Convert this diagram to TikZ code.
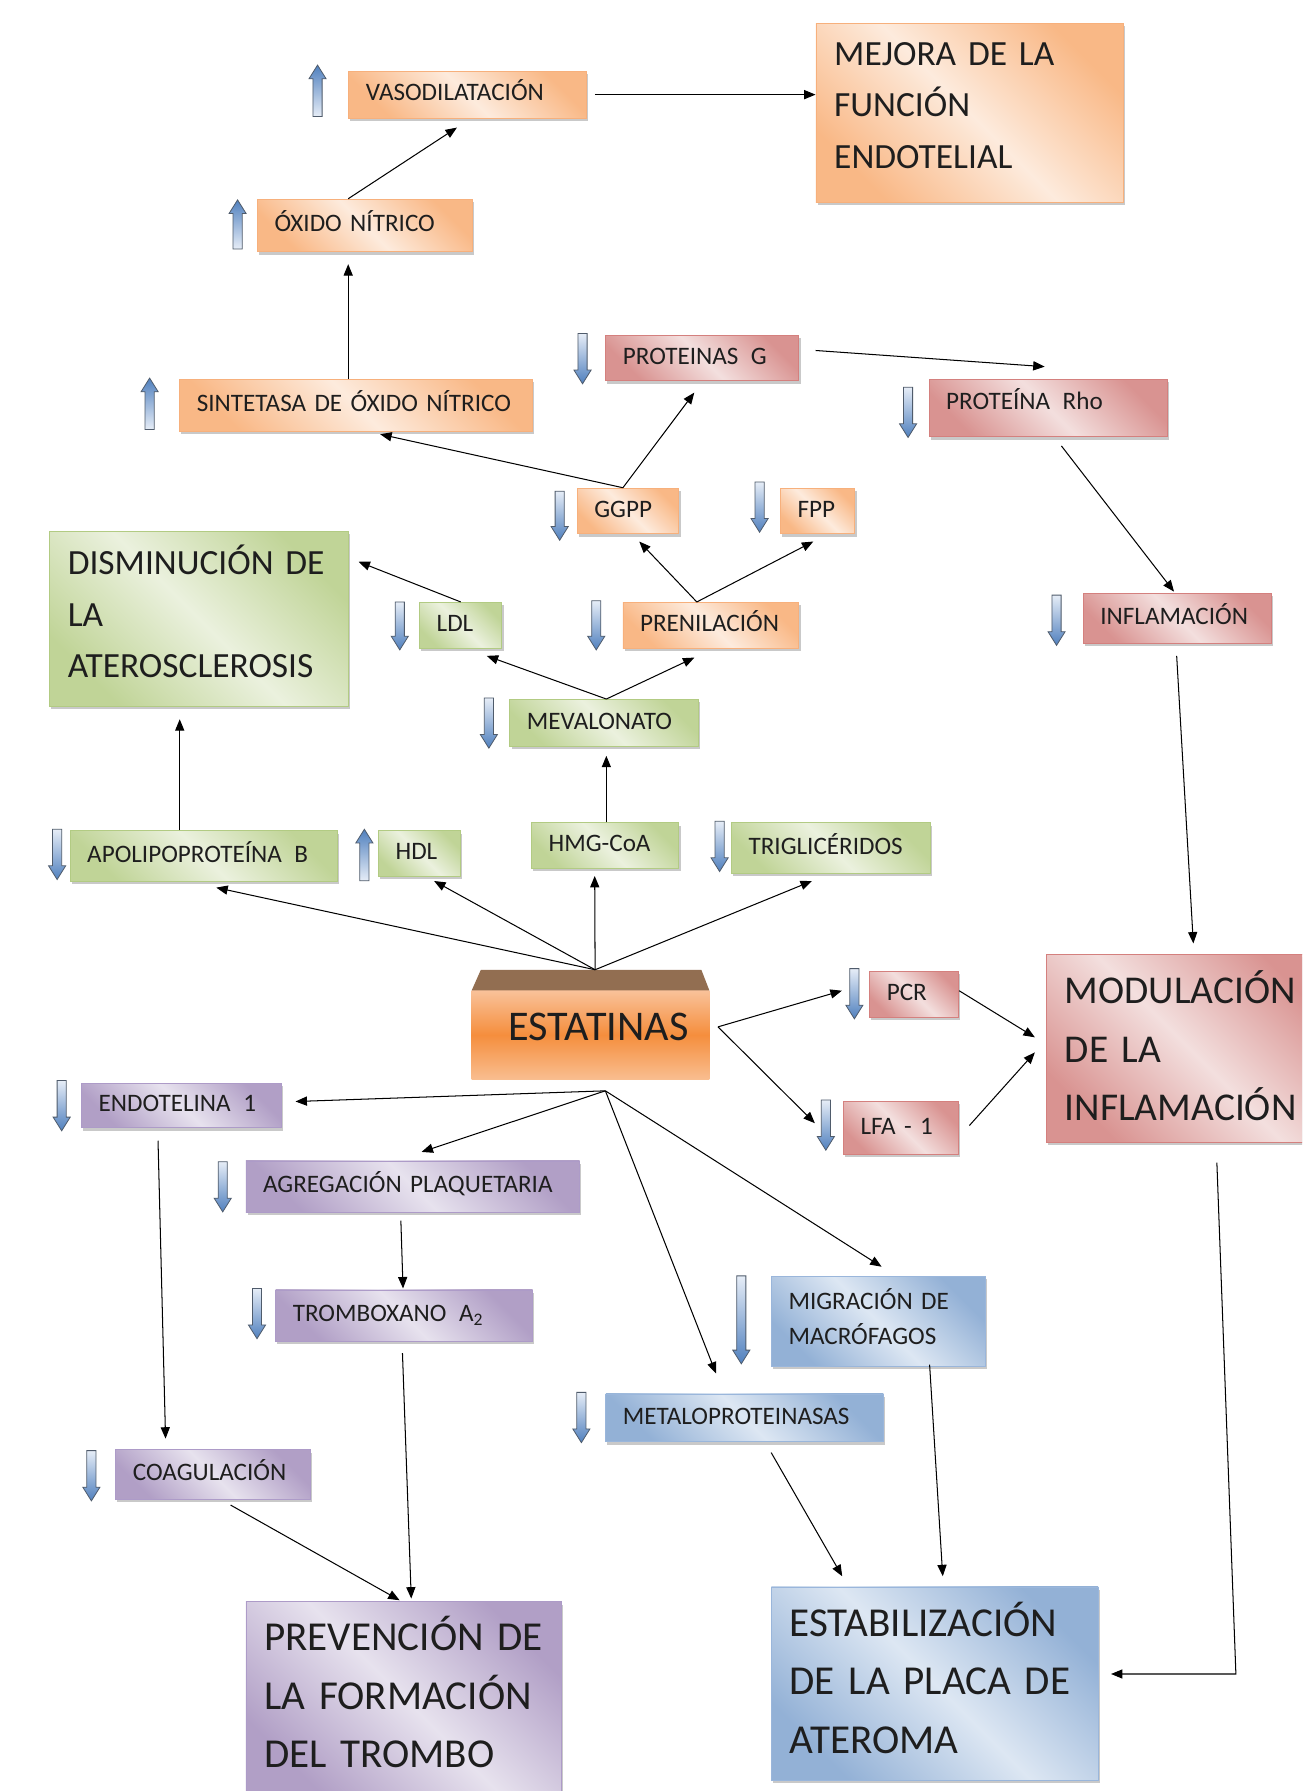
\documentclass[tikz,border=0pt]{standalone}
\usepackage{fontspec}
\setmainfont{Carlito}
\usetikzlibrary{arrows.meta,shadows}
\definecolor{orD}{HTML}{F9B886}
\definecolor{orL}{HTML}{FDEBDD}
\definecolor{orB}{HTML}{F7B07C}
\definecolor{grD}{HTML}{C0D497}
\definecolor{grL}{HTML}{EBF1DE}
\definecolor{grB}{HTML}{B2CB83}
\definecolor{rdD}{HTML}{D99391}
\definecolor{rdL}{HTML}{F3DFDE}
\definecolor{rdB}{HTML}{D4807E}
\definecolor{puD}{HTML}{B19FC6}
\definecolor{puL}{HTML}{E7E2EE}
\definecolor{puB}{HTML}{AD9BC8}
\definecolor{blD}{HTML}{93B1D6}
\definecolor{blL}{HTML}{DDE7F3}
\definecolor{blB}{HTML}{9AB6DB}
\definecolor{arrL}{HTML}{E6EDF7}
\definecolor{arrD}{HTML}{5080BE}
\definecolor{arrB}{HTML}{4F5B6B}
\definecolor{estT}{HTML}{F9C29A}
\definecolor{estM}{HTML}{F58E3D}
\definecolor{estB}{HTML}{F9BE90}
\definecolor{estBrown}{HTML}{926E51}
\definecolor{txt}{HTML}{1E1E1E}
\newcommand\fsmall{\fontsize{22}{30}\selectfont}
\newcommand\fbig{\fontsize{31}{45}\selectfont}
\newcommand\fhuge{\fontsize{36}{51}\selectfont}
\newcommand\fmod{\fontsize{34.5}{51}\selectfont}
\begin{document}
\begin{tikzpicture}[x=1pt, y=-1pt,
  conn/.style={-{Triangle[length=10pt,width=8pt]}, line width=0.9pt, black},
  box/.style={line width=0.7pt, anchor=north west, align=left, inner xsep=15pt, inner ysep=0pt,
    font=\fsmall, text=txt, text height=11pt, text depth=0pt,
    drop shadow={shadow xshift=1.5pt, shadow yshift=-2.5pt, opacity=0.35, fill=black!60}},
  obox/.style={box, draw=orB, top color=orD, bottom color=orD, middle color=orL, shading angle=-45},
  gbox/.style={box, draw=grB, top color=grD, bottom color=grD, middle color=grL, shading angle=-45},
  rbox/.style={box, draw=rdB, top color=rdD, bottom color=rdD, middle color=rdL, shading angle=-45},
  pbox/.style={box, draw=puB, top color=puD, bottom color=puD, middle color=puL, shading angle=-45},
  bbox/.style={box, draw=blB, top color=blD, bottom color=blD, middle color=blL, shading angle=-45},
  big/.style={font=\fbig, inner xsep=16pt, text height=0pt, text depth=#1},
  huge/.style={font=\fhuge, inner xsep=16pt, text height=0pt, text depth=#1},
  darr/.pic={\path[draw=arrB, line width=0.7pt, top color=arrL, bottom color=arrD]
     (-4,0) -- (4,0) -- (4,#1-12) -- (7.5,#1-12) -- (0,#1) -- (-7.5,#1-12) -- (-4,#1-12) -- cycle;},
  uarr/.pic={\path[draw=arrB, line width=0.7pt, top color=arrD, bottom color=arrL]
     (0,0) -- (7.5,12) -- (4,12) -- (4,#1) -- (-4,#1) -- (-4,12) -- (-7.5,12) -- cycle;}
]
\path[use as bounding box, fill=white] (0,0) rectangle (1140,1568);
\clip (0,0) rectangle (1140,1568);

% ---------- boxes ----------
\node[obox, minimum width=208pt, minimum height=41pt, text width=178pt] (vaso) at (305,62) {VASODILATACIÓN};
\node[obox, big=83pt, minimum width=269pt, minimum height=157pt, text width=237pt] (mejora) at (714,20) {MEJORA~DE~LA\\FUNCIÓN\\ENDOTELIAL};
\node[obox, minimum width=188pt, minimum height=46pt, text width=158pt] (oxido) at (225,174) {ÓXIDO~NÍTRICO};
\node[obox, minimum width=309pt, minimum height=45pt, text width=279pt] (sint) at (157,332) {SINTETASA~DE~ÓXIDO~NÍTRICO};
\node[rbox, minimum width=169pt, minimum height=40pt, text width=139pt] (protg) at (530,293) {PROTEINAS\enspace G};
\node[rbox, minimum width=209pt, minimum height=50pt, text width=179pt, text height=2pt] (rho) at (813,332) {PROTEÍNA\enspace Rho};
\node[obox, minimum width=89pt, minimum height=40pt, text width=59pt] (ggpp) at (505,427) {GGPP};
\node[obox, minimum width=65pt, minimum height=40pt, text width=35pt] (fpp) at (683,427) {FPP};
\node[gbox, big=77pt, minimum width=262pt, minimum height=153pt, text width=230pt] (dism) at (43,465) {DISMINUCIÓN~DE\\LA\\ATEROSCLEROSIS};
\node[gbox, minimum width=72pt, minimum height=40pt, text width=42pt] (ldl) at (367,527) {LDL};
\node[obox, minimum width=154pt, minimum height=40pt, text width=124pt] (pren) at (545,527) {PRENILACIÓN};
\node[rbox, minimum width=165pt, minimum height=44pt, text width=135pt] (infl) at (948,519) {INFLAMACIÓN};
\node[gbox, minimum width=165pt, minimum height=41pt, text width=135pt] (meva) at (446,612) {MEVALONATO};
\node[gbox, minimum width=234pt, minimum height=44pt, text width=204pt] (apo) at (61,727) {APOLIPOPROTEÍNA\enspace B};
\node[gbox, minimum width=72pt, minimum height=40pt, text width=42pt] (hdl) at (331,727) {HDL};
\node[gbox, minimum width=129pt, minimum height=40pt, text width=99pt] (hmg) at (465,720) {HMG-CoA};
\node[gbox, minimum width=174pt, minimum height=44pt, text width=144pt] (trig) at (640,720) {TRIGLICÉRIDOS};
\node[line width=0pt, anchor=north west, minimum width=208pt, minimum height=78pt, inner xsep=32pt, inner ysep=0pt,
      text width=144pt, align=left, text height=9.4pt, text depth=0pt, text=txt,
      top color=estT, bottom color=estB, middle color=estM, font=\fontsize{37}{40}\selectfont] (estat) at (413,867) {ESTATINAS};
\fill[estBrown] (estat.north west) -- ([shift={(8,-18)}]estat.north west) -- ([shift={(-7,-18)}]estat.north east) -- (estat.north east) -- cycle;
\node[rbox, minimum width=78pt, minimum height=40pt, text width=48pt] (pcr) at (761,850) {PCR};
\node[rbox, minimum width=101pt, minimum height=46pt, text width=71pt] (lfa) at (738,964) {LFA~-~1};
\node[rbox, huge=78pt, font=\fmod, minimum width=250pt, minimum height=165pt, text width=218pt] (modul) at (916,835) {MODULACIÓN\\DE~LA\\INFLAMACIÓN};
\node[pbox, minimum width=175pt, minimum height=39pt, text width=145pt] (endo) at (71,948) {ENDOTELINA\enspace 1};
\node[pbox, minimum width=292pt, minimum height=45pt, text width=262pt] (agreg) at (215,1016) {AGREGACIÓN~PLAQUETARIA};
\node[pbox, minimum width=225pt, minimum height=45pt, text width=195pt] (tromb) at (241,1129) {TROMBOXANO\enspace A\textsubscript{2}};
\node[bbox, minimum width=187pt, minimum height=79pt, text width=157pt, text height=0pt, text depth=20pt] (migr) at (675,1117) {MIGRACIÓN~DE\\MACRÓFAGOS};
\node[bbox, minimum width=243pt, minimum height=42pt, text width=213pt] (metal) at (530,1220) {METALOPROTEINASAS};
\node[pbox, minimum width=170pt, minimum height=43pt, text width=140pt] (coag) at (101,1269) {COAGULACIÓN};
\node[pbox, huge=82pt, minimum width=276pt, minimum height=168pt, text width=244pt] (prev) at (215,1402) {PREVENCIÓN~DE\\LA~FORMACIÓN\\DEL~TROMBO};
\node[bbox, huge=82pt, minimum width=286pt, minimum height=169pt, text width=254pt] (estab) at (675,1389) {ESTABILIZACIÓN\\DE~LA~PLACA~DE\\ATEROMA};

% ---------- block arrows ----------
\pic at (278,57) {uarr=45};
\pic at (208,175) {uarr=43};
\pic at (131,331) {uarr=45};
\pic at (510,292) {darr=44};
\pic at (795,339) {darr=44};
\pic at (490,430) {darr=43};
\pic at (665,422) {darr=44};
\pic at (350,527) {darr=42};
\pic at (522,526) {darr=43};
\pic at (925,521) {darr=44};
\pic at (428,611) {darr=44};
\pic at (50,726) {darr=44};
\pic at (319,726) {uarr=45};
\pic at (630,719) {darr=44};
\pic at (748,848) {darr=44};
\pic at (723,963) {darr=44};
\pic at (54,946) {darr=44};
\pic at (195,1017) {darr=44};
\pic at (225,1128) {darr=44};
\pic at (649,1117) {darr=77};
\pic at (509,1219) {darr=44};
\pic at (80,1270) {darr=44};

% ---------- connectors ----------
\draw[conn] ([shift={(7,0)}]vaso.east) -- (vaso.east -| mejora.west);
\draw[conn] ([shift={(-14.5,0)}]oxido.north) -- ([shift={(-9.3,8)}]vaso.south);
\draw[conn] ([shift={(-7,0)}]sint.north) -- ([shift={(-14.5,10.6)}]oxido.south);
\draw[conn] ([shift={(-4.5,0)}]ggpp.north) -- ([shift={(21,2.5)}]sint.south);
\draw[conn] ([shift={(-4.5,0)}]ggpp.north) -- ([shift={(-7,10)}]protg.south);
\draw[conn] ([shift={(14.4,-6.5)}]protg.east) -- ([shift={(-3.3,-11)}]rho.north);
\draw[conn] ([shift={(11.4,7.7)}]rho.south) -- ([shift={(-3,-1)}]infl.north);
\draw[conn] ([shift={(-12.3,0)}]pren.north) -- ([shift={(9.8,6.4)}]ggpp.south);
\draw[conn] ([shift={(-12.3,0)}]pren.north) -- ([shift={(-3.8,6.4)}]fpp.south);
\draw[conn] (ldl.north) -- ([shift={(8.2,26.8)}]dism.north east);
\draw[conn] ([shift={(2,0)}]meva.north) -- ([shift={(22.8,6.5)}]ldl.south);
\draw[conn] ([shift={(2,0)}]meva.north) -- ([shift={(-14.4,8)}]pren.south);
\draw[conn] ([shift={(1,0)}]hmg.north) -- ([shift={(2,8)}]meva.south);
\draw[conn] ([shift={(-21,0)}]apo.north) -- ([shift={(-17,11)}]dism.south);

\coordinate (estop) at ([shift={(4,-18)}]estat.north);
\draw[conn] (estop) -- ([shift={(11,5.4)}]apo.south);
\draw[conn] (estop) -- ([shift={(12.7,3.6)}]hdl.south);
\draw[conn] (estop) -- ([shift={(-9.2,6.2)}]hmg.south);
\draw[conn] (estop) -- ([shift={(-16.5,6.6)}]trig.south);

\coordinate (esright) at ([shift={(7.6,-7)}]estat.east);
\draw[conn] (esright) -- ([shift={(-24,-3)}]pcr.west);
\draw[conn] (esright) -- ([shift={(-24.6,-4)}]lfa.west);
\draw[conn] ([shift={(0,-3)}]pcr.east) -- ([shift={(-10,-9.7)}]modul.west);
\draw[conn] ([shift={(9,-2)}]lfa.east) -- ([shift={(-10,3.5)}]modul.west);
\draw[conn] ([shift={(-0.7,10.5)}]infl.south) -- ([shift={(3.4,-9)}]modul.north);

\coordinate (esbot) at ([shift={(13,10)}]estat.south);
\draw[conn] (esbot) -- ([shift={(12,-3.5)}]endo.east);
\draw[conn] (esbot) -- ([shift={(7.7,-7.5)}]agreg.north);
\draw[conn] (esbot) -- ([shift={(-25,-17.5)}]metal.north);
\draw[conn] (esbot) -- ([shift={(3,-8)}]migr.north);

\draw[conn] ([shift={(-20.5,11)}]endo.south) -- ([shift={(-41.4,-9.5)}]coag.north);
\draw[conn] ([shift={(-10.4,7)}]agreg.south) -- ([shift={(-1,-1)}]tromb.north);
\draw[conn] ([shift={(-1.5,10)}]tromb.south) -- ([shift={(6.7,-2.5)}]prev.north);
\draw[conn] ([shift={(15.6,5)}]coag.south) -- ([shift={(-3.5,-1)}]prev.north);
\draw[conn] ([shift={(45,-2)}]migr.south) -- ([shift={(7,-9)}]estab.north);
\draw[conn] ([shift={(23.3,9)}]metal.south) -- ([shift={(-81,-9)}]estab.north);
\coordinate (elbow) at ([shift={(120.3,-8.3)}]estab.east);
\draw[conn] ([shift={(24,17.2)}]modul.south) -- (elbow) -- ([shift={(11,-8.3)}]estab.east);
\end{tikzpicture}
\end{document}
